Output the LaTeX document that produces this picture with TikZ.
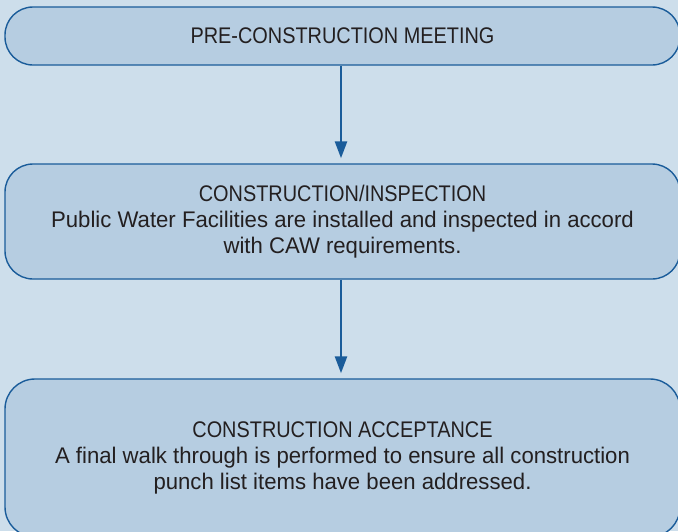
\documentclass[tikz,border=0pt]{standalone}
\usepackage{fontspec}
\setmainfont{Liberation Sans}[FakeStretch=0.98]
\newfontfamily\capsfont{Liberation Sans}[FakeStretch=0.88]
\usetikzlibrary{arrows.meta}
\definecolor{bgblue}{HTML}{CDDEEB}
\definecolor{boxblue}{HTML}{B6CDE1}
\definecolor{lineblue}{HTML}{1A5C9A}
\definecolor{txt}{HTML}{231F20}
\tikzset{
  stagebox/.style={draw=lineblue, line width=1.4pt, fill=boxblue, rounded corners=28pt,
    minimum width=675pt, inner sep=0pt, align=center, text=txt,
    font=\fontsize{22.6pt}{26pt}\selectfont},
  flowarrow/.style={draw=lineblue, line width=2.6pt, -{Triangle[width=12pt,length=17pt]}, shorten >=5pt}
}
\begin{document}
\begin{tikzpicture}[x=1pt,y=-1pt]
\useasboundingbox (0,0) rectangle (678,531);
\clip (0,0) rectangle (678,531);
\fill[bgblue] (0,0) rectangle (678,531);
\node[stagebox, minimum height=58pt] (pre) at (342.5,36) {{\capsfont PRE-CONSTRUCTION MEETING}};
\node[stagebox, minimum height=115pt] (ci) at (342.5,221.5) {{\capsfont CONSTRUCTION/INSPECTION}\\Public Water Facilities are installed and inspected in accord\\with CAW requirements.};
\node[stagebox, minimum height=158pt, rounded corners=30pt] (ca) at (342.5,458) {{\capsfont CONSTRUCTION ACCEPTANCE}\\A final walk through is performed to ensure all construction\\punch list items have been addressed.};
\draw[flowarrow] (pre.south -| 341,0) -- (ci.north -| 341,0);
\draw[flowarrow] (ci.south -| 341,0) -- (ca.north -| 341,0);
\end{tikzpicture}
\end{document}
